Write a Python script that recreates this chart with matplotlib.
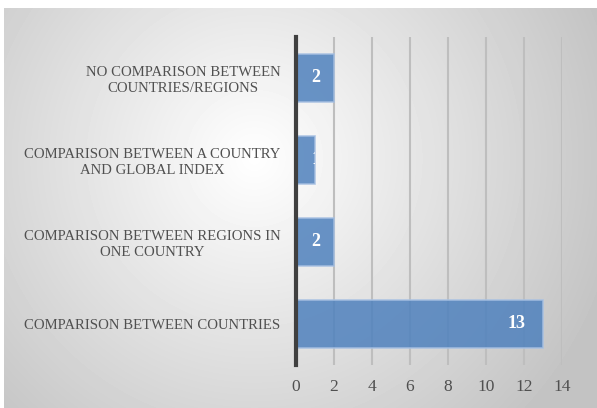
import numpy as np
import matplotlib
matplotlib.use("Agg")
import matplotlib.pyplot as plt

# donnees du graphique (de haut en bas)
categories = ["NO COMPARISON BETWEEN\nCOUNTRIES/REGIONS",
              "COMPARISON BETWEEN A COUNTRY\nAND GLOBAL INDEX",
              "COMPARISON BETWEEN REGIONS IN\nONE COUNTRY",
              "COMPARISON BETWEEN COUNTRIES"]
valeurs = [2, 1, 2, 13]
x_ticks = [0, 2, 4, 6, 8, 10, 12, 14]

W, H = 597, 408
fig = plt.figure(figsize=(W / 100, H / 100), dpi=100)
fig.patch.set_facecolor("white")

# fond gris en degrade radial
bg = fig.add_axes([4 / W, 0, 1 - 4 / W, 1 - 8 / H])
bg.set_axis_off()
yy, xx = np.mgrid[0:400, 0:593]
d = np.sqrt((xx - 250) ** 2 + (yy - 150) ** 2)
gris = np.clip(255 - 0.16 * d, 195, 255) / 255
bg.imshow(gris, cmap="gray", vmin=0, vmax=1, aspect="auto", interpolation="bilinear")

ax = fig.add_axes([295.7 / W, 43 / H, (562 - 295.7) / W, (365 - 37) / H])
ax.patch.set_alpha(0)

y = np.arange(len(categories))[::-1]
barres = ax.barh(y, valeurs, height=0.59, color="#4F81BD", alpha=0.85,
                 edgecolor="#A7C0E2", linewidth=1.2, zorder=3)

ax.set_xlim(0, 14)
ax.set_ylim(-0.5, len(categories) - 0.5)
ax.set_xticks(x_ticks)
ax.xaxis.grid(True, color="#BEBEBE", linewidth=1.5, zorder=1)
ax.set_axisbelow(True)

for s in ["top", "right", "bottom"]:
    ax.spines[s].set_visible(False)
ax.spines["left"].set_color("#404040")
ax.spines["left"].set_linewidth(3)
ax.spines["left"].set_zorder(4)

police = "Liberation Serif"
ax.set_yticks(y)
ax.set_yticklabels(categories, fontsize=10.6, family=police, color="#505050",
                   ha="right", multialignment="center", linespacing=1.3)
ax.tick_params(axis="y", length=0, pad=11)
ax.tick_params(axis="x", length=0, pad=10, labelsize=12.5, labelcolor="#505050")
for lab in ax.get_xticklabels():
    lab.set_family(police)

# etiquettes de valeurs (decalage en pixels depuis le bout de la barre)
decalages = {2: -18, 1: 1, 13: -26}
for b, yi, v in zip(barres, y, valeurs):
    t = ax.annotate(str(v), (v, yi), xytext=(decalages[v], 0), textcoords="offset pixels",
                    ha="center", va="center", color="white", fontsize=13,
                    fontweight="bold", family=police, zorder=5)
    t.set_clip_path(b)

fig.savefig("out.png", dpi=100)
